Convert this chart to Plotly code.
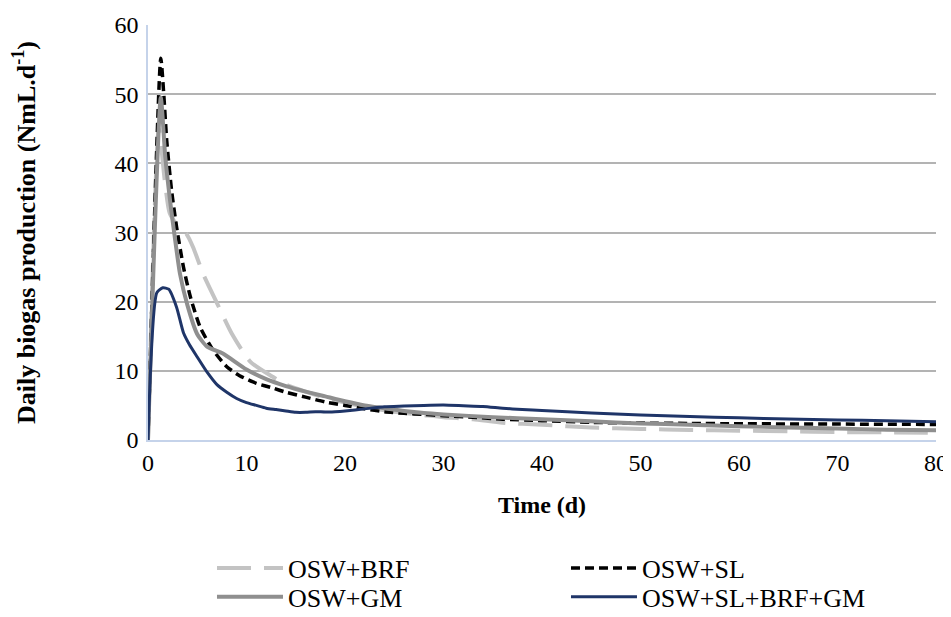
import plotly.graph_objects as go

# ---- data ----
brf_days = [0, 1.1, 1.7, 2.2, 2.9, 3.9, 4.6, 5.6, 7, 8.5, 10.4, 12.7, 14, 16, 18, 20, 22, 24, 26, 28, 30, 33, 36, 40, 45, 50, 55, 60, 65, 70, 75, 80]
brf_vals = [0, 45, 37.5, 32.8, 31.2, 29.8, 27.8, 24, 19.8, 15.4, 11.3, 9.1, 8.0, 7.0, 6.1, 5.4, 4.8, 4.3, 3.9, 3.6, 3.3, 3.0, 2.5, 2.2, 1.8, 1.6, 1.45, 1.35, 1.25, 1.15, 1.1, 1.05]

sl_days = [0, 1.3, 1.6, 1.9, 2.4, 2.9, 3.6, 4.3, 5.3, 6.6, 8, 9.3, 11, 12.7, 14, 16, 18, 20, 22, 24, 26, 28, 30, 33, 36, 40, 45, 50, 55, 60, 70, 80]
sl_vals = [0, 55.2, 50, 43.3, 36, 30.8, 25, 20.7, 16.3, 13.0, 10.6, 9.3, 8.2, 7.5, 6.9, 6.2, 5.5, 5.0, 4.5, 4.1, 3.85, 3.7, 3.5, 3.3, 3.0, 2.8, 2.55, 2.45, 2.4, 2.35, 2.3, 2.25]

gm_days = [0, 1.3, 1.75, 2.25, 2.75, 3.25, 4, 5, 6, 7.6, 10, 12, 14, 16, 18, 20, 22, 24, 26, 28, 30, 35, 40, 45, 50, 55, 60, 65, 70, 75, 80]
gm_vals = [0, 49.5, 41, 34.5, 29, 24, 19.5, 15.3, 13.5, 12.5, 10.2, 8.8, 7.8, 7.0, 6.3, 5.6, 5.0, 4.6, 4.2, 3.9, 3.7, 3.3, 3.0, 2.7, 2.4, 2.2, 2.0, 1.8, 1.65, 1.5, 1.4]

mix_days = [0, 0.9, 1.5, 2.1, 2.9, 3.6, 4.2, 5, 6, 7, 8, 9, 10, 11, 12, 13, 14, 15, 16, 17, 18, 19, 20, 22, 24, 26, 28, 30, 32, 34, 36, 38, 40, 45, 50, 55, 60, 65, 70, 75, 80]
mix_vals = [0, 21.3, 22, 21.8, 19.2, 15.5, 13.8, 12.0, 9.8, 8.0, 6.9, 6.0, 5.4, 5.0, 4.6, 4.4, 4.2, 4.0, 4.0, 4.1, 4.05, 4.1, 4.2, 4.5, 4.8, 4.9, 5.0, 5.05, 4.95, 4.85, 4.6, 4.4, 4.25, 3.9, 3.6, 3.4, 3.2, 3.05, 2.9, 2.8, 2.65]

x_ticks = [0, 10, 20, 30, 40, 50, 60, 70, 80]
y_ticks = [0, 10, 20, 30, 40, 50, 60]

FONT = "Liberation Serif"

fig = go.Figure()
fig.add_trace(go.Scatter(x=brf_days, y=brf_vals, name="OSW+BRF", mode="lines", legend="legend",
                         line=dict(color="#c3c3c3", width=4, dash="34px,13px", shape="spline", smoothing=0.6)))
fig.add_trace(go.Scatter(x=sl_days, y=sl_vals, name="OSW+SL", mode="lines", legend="legend",
                         line=dict(color="#000000", width=3.5, dash="9px,5px", shape="spline", smoothing=0.6)))
fig.add_trace(go.Scatter(x=gm_days, y=gm_vals, name="OSW+GM", mode="lines", legend="legend2",
                         line=dict(color="#8f8f8f", width=4, shape="spline", smoothing=0.6)))
fig.add_trace(go.Scatter(x=mix_days, y=mix_vals, name="OSW+SL+BRF+GM", mode="lines", legend="legend2",
                         line=dict(color="#1f3568", width=3, shape="spline", smoothing=0.6)))

leg_common = dict(orientation="h", x=0.0812, xanchor="left", yanchor="middle",
                  entrywidth=273, entrywidthmode="pixels", itemwidth=66,
                  font=dict(family=FONT, size=26), tracegroupgap=0,
                  bgcolor="rgba(0,0,0,0)")

fig.update_layout(
    width=943, height=609,
    margin=dict(l=140, r=15, t=17, b=177, autoexpand=False),
    paper_bgcolor="white", plot_bgcolor="white",
    font=dict(family=FONT, size=22, color="#000000"),
    showlegend=True,
    legend=dict(y=-0.3084, **leg_common),
    legend2=dict(y=-0.378, **leg_common),
    xaxis=dict(range=[0, 80], tickvals=x_ticks, ticks="", showgrid=False,
               showline=True, linecolor="#c5d3ea", linewidth=1.5, zeroline=False,
               title=dict(text="<b>Time (d)</b>", font=dict(family=FONT, size=24), standoff=22),
               tickfont=dict(family=FONT, size=24)),
    yaxis=dict(range=[0, 60], tickvals=y_ticks, ticks="", showgrid=True,
               gridcolor="#b3b3b3", gridwidth=1.5, ticklabelstandoff=3,
               showline=True, linecolor="#c5d3ea", linewidth=1.5, zeroline=False,
               title=dict(text="<b>Daily biogas production (NmL.d<sup>-1</sup>)</b>",
                          font=dict(family=FONT, size=26), standoff=72),
               tickfont=dict(family=FONT, size=24)),
)

fig.write_html("out.html")
